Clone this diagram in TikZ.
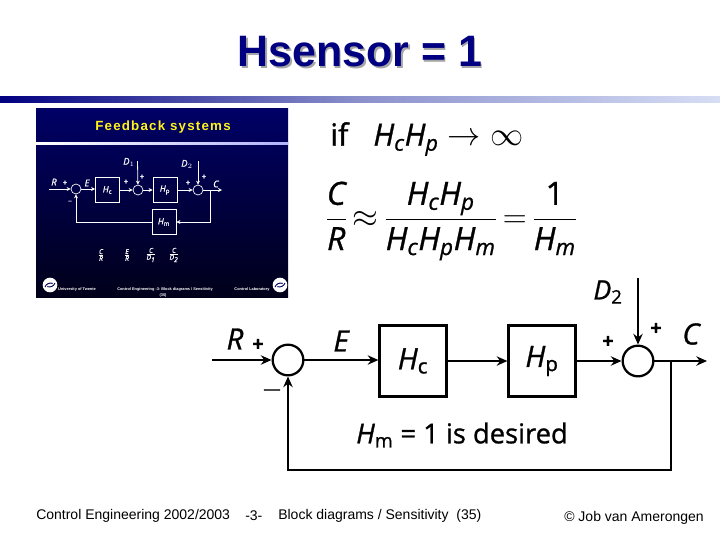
\documentclass[tikz,border=0pt]{standalone}
\usepackage{fontspec}
\setmainfont{Open Sans}[FakeBold=1]
\newfontfamily\arialfont{Liberation Sans}
\newfontfamily\insetfont{Liberation Sans}[LetterSpace=9]
\usetikzlibrary{arrows.meta}
\definecolor{titleblue}{RGB}{0,0,128}
\definecolor{barlight}{RGB}{214,222,245}
\newcommand{\var}[1]{\mathit{#1}}
\newcommand{\fr}[2]{\frac{#1\rule[-5pt]{0pt}{5pt}}{\rule{0pt}{19pt}#2}}
\tikzset{
	block/.style={draw, line width=1.9pt, minimum width=50pt, minimum height=53pt, inner sep=0pt},
	sumnode/.style={draw, circle, line width=1.7pt, minimum size=23pt, inner sep=0pt},
	signal/.style={-{Stealth[length=8pt, width=7pt]}, line width=1.6pt},
	lab/.style={font=\fontsize{22}{26}\selectfont\itshape, inner sep=0pt},
	sign/.style={font=\fontsize{15}{18}\selectfont\bfseries, inner sep=0pt},
	eqn/.style={font=\fontsize{23}{27}\selectfont, inner sep=0pt},
	foot/.style={font=\arialfont\fontsize{10.5}{12}\selectfont, inner sep=0pt, anchor=west},
	miniblock/.style={draw=white, line width=.6pt, minimum width=18pt, minimum height=19pt, inner sep=0pt, text=white, font=\fontsize{6.5}{7}\selectfont\itshape},
	minisum/.style={draw=white, circle, line width=.5pt, minimum size=7.5pt, inner sep=0pt},
	minisignal/.style={-{Stealth[length=3pt, width=3pt]}, draw=white, line width=.6pt},
	minilab/.style={text=white, font=\fontsize{7}{8}\selectfont\itshape, inner sep=0pt},
	minifoot/.style={text=white, font=\arialfont\fontsize{2.9}{3.2}\selectfont\bfseries, inner sep=0pt}
}
\begin{document}
\begin{tikzpicture}[x=.75pt, y=-.75pt]
	\useasboundingbox (0,0) rectangle (720,540);
	\fill[white] (0,0) rectangle (720,540);
	% title and bar
	\node[text=gray!70, font=\arialfont\fontsize{33}{36}\selectfont\bfseries, inner sep=0pt, xscale=.975] (titleshadow) at (361.5,53.5) {Hsensor = 1};
	\node[text=titleblue, font=\arialfont\fontsize{33}{36}\selectfont\bfseries, inner sep=0pt, xscale=.975] (title) at (360,52) {Hsensor = 1};
	\shade[left color=titleblue, right color=barlight, middle color=titleblue!35!barlight] (0,96) rectangle (720,102);
	% small slide
	\shade[top color=titleblue!80!black, middle color=titleblue!95!white, bottom color=black!90!blue] (36,108) rectangle (288,297);
	\shade[left color=white, right color=white!70!blue] (36,142.5) rectangle (288,144);
	\node[text=yellow!90!white, font=\insetfont\fontsize{10}{11}\selectfont\bfseries, inner sep=0pt] (minititle) at (163,127) {Feedback systems};
	\node[minisum] (ma) at (76,189) {};
	\node[miniblock] (mc) at (107.5,190) {H$_{\mathrm c}$};
	\node[minisum] (mb) at (138,190) {};
	\node[miniblock] (mp) at (165,190) {H$_{\mathrm p}$};
	\node[minisum] (md) at (198,190) {};
	\node[miniblock] (mm) at (164,222) {H$_{\mathrm m}$};
	\coordinate (mr) at (49,189);
	\coordinate (mout) at (222,190);
	\coordinate (mbranch) at (210,190);
	\coordinate (mdone) at (137.5,161);
	\coordinate (mdtwo) at (198,161);
	\draw[minisignal] (mr) -- (ma);
	\draw[minisignal] (ma) -- (mc.west |- ma);
	\draw[minisignal] (mc) -- (mb);
	\draw[minisignal] (mb) -- (mp);
	\draw[minisignal] (mp) -- (md);
	\draw[minisignal] (md) -- (mout);
	\draw[minisignal] (mdone) -- (mb);
	\draw[minisignal] (mdtwo) -- (md);
	\draw[minisignal] (mbranch) |- (mm);
	\draw[minisignal] (mm) -| (ma);
	\foreach \x/\y/\t in {129/162/D$_{1}$, 187/164/D$_{2}$, 54/182/R, 87/183/E, 216/184/C}
	\node[minilab] at (\x,\y) {\t};
	\foreach \x/\y/\t in {65/183/+, 126/182/+, 142/177/+, 188/183/+, 204/177/+, 70/202/--}
	\node[minilab, font=\fontsize{6}{7}\selectfont] at (\x,\y) {\t};
	\foreach \x/\n/\d in {101/C/R, 127/E/R, 151/C/D_{1}, 174/C/D_{2}}
	\node[minilab] at (\x,255) {$\frac{\var{\n}}{\var{\d}}$};
	\fill[white] (50,285) circle (5.5pt);
	\fill[white] (280,285) circle (5.5pt);
	\draw[titleblue!70!black, line width=.7pt] (45,287) arc (200:290:6) (55,283) arc (20:110:6);
	\draw[titleblue!70!black, line width=.7pt] (275,287) arc (200:290:6) (285,283) arc (20:110:6);
	\node[minifoot] (mfa) at (77,289) {University of Twente};
	\node[minifoot] (mfb) at (165,289) {Control Engineering -3- Block diagrams / Sensitivity};
	\node[minifoot] (mfc) at (163,295) {(35)};
	\node[minifoot] (mfd) at (252,289) {Control Laboratory};
	% equations
	\node[eqn, anchor=west] (cond) at (330,139) {if\;\; $\var{H}_{\var{c}}\var{H}_{\var{p}} \rightarrow \infty$};
	\node[eqn, anchor=west, font=\fontsize{24}{28}\selectfont] (gain) at (325,221) {$\displaystyle \thickmuskip=3mu \fr{\var{C}}{\var{R}} \approx \fr{\var{H}_{\var{c}}\var{H}_{\var{p}}}{\var{H}_{\var{c}}\var{H}_{\var{p}}\var{H}_{\var{m}}} = \fr{\mbox{1}}{\var{H}_{\var{m}}}$};
	% block diagram
	\node[sumnode] (suma) at (288,360) {};
	\node[block] (hc) at (413,361) {};
	\node[block] (hp) at (542,361) {};
	\node[sumnode] (sumb) at (638,361) {};
	\coordinate (in) at (212,360);
	\coordinate (out) at (707,361);
	\coordinate (branch) at (671,361);
	\coordinate (dtwo) at (638,278);
	\draw[signal] (in) -- (suma);
	\draw[signal] (suma) -- (hc.west |- suma);
	\draw[signal] (hc) -- (hp);
	\draw[signal] (hp) -- (sumb);
	\draw[signal] (sumb) -- (out);
	\draw[signal] (dtwo) -- (sumb);
	\draw[signal] (branch) -- ++(0,109) -| (suma);
	\node[lab] (lr) at (235,339) {R};
	\node[sign] (pa) at (258,345) {+};
	\node[lab] (le) at (341,341) {E};
	\node[lab] at (hc) {H$_{\mathrm{c}}$};
	\node[lab] at (hp) {H$_{\mathrm{p}}$};
	\node[sign] (pb) at (608,342) {+};
	\node[sign] (pc) at (656,329) {+};
	\node[lab] (lc) at (691,334) {C};
	\node[lab, font=\fontsize{20}{24}\selectfont\itshape] (ld) at (608,292) {D$_{\mathrm{2}}$};
	\node[sign, font=\fontsize{13}{15}\selectfont] (mi) at (272,392) {---};
	\node[lab, font=\fontsize{20.5}{24}\selectfont] (des) at (462,435) {\textit{H}$_{\mathrm{m}}$ = 1 is desired};
	% footer
	\node[foot] (fa) at (36,516) {Control Engineering 2002/2003};
	\node[foot] (fb) at (245,516) {-3-};
	\node[foot] (fc) at (278,516) {Block diagrams / Sensitivity\ \ (35)};
	\node[foot] (fd) at (564,518) {© Job van Amerongen};
\end{tikzpicture}
\end{document}
